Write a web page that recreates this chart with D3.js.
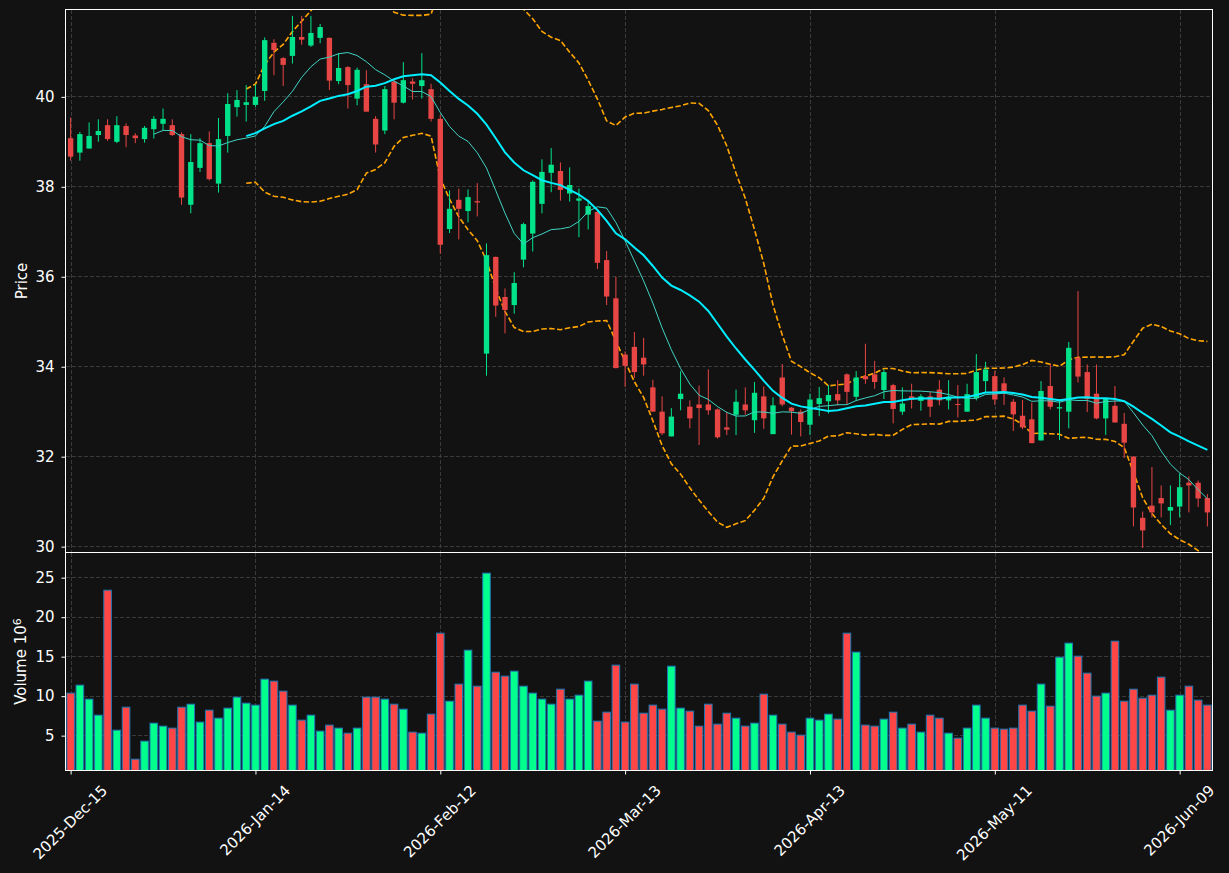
<!DOCTYPE html>
<html>
<head>
<meta charset="utf-8">
<script src="https://cdn.jsdelivr.net/npm/d3@7"></script>
<style>
  body { margin: 0; background: #121212; }
  text { font-family: "DejaVu Sans", sans-serif; }
</style>
</head>
<body>
<div id="chart"></div>
<script>
// trading days: weekdays from 2025-12-15 to 2026-06-12 minus exchange holidays
var startDay = '2025-12-15', endDay = '2026-06-13';
var holidays = ['2025-12-25', '2026-01-01', '2026-01-19', '2026-02-16', '2026-04-03', '2026-05-25'];

var opens = [39.07, 38.75, 38.84, 39.14, 39.36, 38.99, 39.34, 39.13, 39.05, 39.27,
  39.39, 39.36, 39.16, 37.59, 38.41, 38.96, 38.06, 39.12, 39.76, 39.81,
  39.81, 40.12, 41.19, 40.85, 40.90, 41.32, 41.13, 41.30, 41.30, 40.34,
  40.65, 39.95, 40.27, 39.50, 39.24, 40.33, 39.86, 40.33, 40.23, 40.16,
  39.50, 37.05, 37.70, 37.45, 37.67, 34.28, 36.43, 35.54, 35.36, 36.37,
  36.95, 37.61, 38.30, 38.34, 37.84, 37.68, 37.37, 37.43, 36.36, 35.51,
  34.26, 34.43, 34.19, 33.53, 32.99, 32.44, 33.27, 33.10, 33.15, 33.15,
  33.04, 32.64, 32.92, 33.15, 32.80, 33.33, 32.49, 33.75, 33.08, 32.99,
  32.70, 33.16, 33.22, 33.38, 33.82, 33.32, 33.78, 33.82, 33.47, 33.58,
  32.99, 33.33, 33.23, 33.33, 33.48, 33.24, 33.16, 32.99, 33.29, 33.67,
  33.78, 33.62, 33.21, 32.90, 32.82, 32.35, 33.56, 33.06, 32.99, 34.19,
  33.87, 33.39, 32.84, 33.12, 32.72, 31.99, 30.63, 30.90, 31.07, 30.79,
  30.88, 31.41, 31.41, 31.07];
var highs = [39.53, 39.21, 39.42, 39.49, 39.49, 39.56, 39.40, 39.18, 39.34, 39.56,
  39.73, 39.49, 39.20, 39.16, 39.07, 39.22, 39.52, 40.07, 40.14, 40.25,
  40.27, 41.31, 41.27, 40.87, 41.79, 41.79, 41.79, 41.61, 41.31, 40.96,
  40.67, 40.64, 40.58, 39.56, 40.23, 40.37, 40.76, 40.40, 40.96, 40.28,
  39.59, 37.91, 37.95, 37.93, 38.07, 36.73, 36.44, 35.73, 36.09, 37.19,
  38.13, 38.60, 38.85, 38.53, 38.42, 37.95, 37.70, 37.45, 36.56, 35.99,
  34.33, 34.76, 34.63, 33.70, 33.33, 33.07, 33.89, 33.24, 33.57, 33.93,
  33.06, 32.98, 33.48, 33.53, 33.65, 33.55, 33.31, 34.05, 33.09, 33.04,
  33.39, 33.54, 33.58, 33.69, 33.84, 33.89, 34.50, 34.12, 33.93, 33.61,
  33.53, 33.61, 33.38, 33.43, 33.69, 33.69, 33.58, 33.61, 34.27, 34.10,
  33.90, 33.75, 33.27, 33.25, 33.19, 33.67, 34.05, 33.27, 34.54, 35.67,
  34.04, 34.04, 33.29, 33.56, 32.96, 32.00, 30.77, 31.76, 31.35, 31.35,
  31.62, 31.55, 31.46, 31.16];
var lows = [38.57, 38.57, 38.84, 38.99, 39.01, 38.96, 38.87, 38.96, 38.97, 39.06,
  39.25, 39.12, 37.59, 37.40, 38.32, 38.13, 37.86, 38.75, 39.55, 39.44,
  39.77, 39.90, 40.47, 40.23, 40.73, 41.15, 41.10, 41.18, 40.14, 40.27,
  39.73, 39.80, 39.66, 38.75, 39.16, 39.49, 39.84, 39.93, 39.95, 39.44,
  36.50, 36.96, 36.82, 37.20, 37.33, 33.79, 35.10, 34.73, 35.17, 36.20,
  36.55, 37.40, 37.87, 37.68, 37.66, 36.87, 37.04, 36.16, 35.36, 33.95,
  33.54, 33.74, 33.79, 32.99, 32.47, 32.44, 33.02, 32.62, 32.25, 32.92,
  32.39, 32.47, 32.47, 32.92, 32.52, 32.61, 32.49, 33.11, 32.48, 32.44,
  32.47, 32.89, 32.95, 33.13, 33.16, 33.23, 33.61, 33.50, 33.27, 32.73,
  32.92, 33.06, 33.01, 32.87, 33.13, 33.04, 32.86, 32.99, 33.24, 33.43,
  33.14, 33.14, 32.56, 32.60, 32.29, 32.35, 33.04, 32.36, 32.62, 33.64,
  32.98, 32.82, 32.47, 32.75, 31.96, 30.44, 29.96, 30.64, 30.64, 30.47,
  30.64, 30.75, 30.87, 30.44];
var closes = [38.66, 39.16, 39.12, 39.23, 39.05, 39.36, 39.14, 39.07, 39.30, 39.50,
  39.50, 39.14, 37.75, 38.54, 38.96, 38.16, 39.05, 39.83, 39.92, 39.87,
  39.99, 41.25, 41.03, 40.70, 41.32, 41.26, 41.41, 41.54, 40.35, 40.63,
  40.25, 40.59, 39.66, 38.93, 40.16, 39.86, 40.36, 40.28, 40.36, 39.50,
  36.70, 37.50, 37.50, 37.76, 37.64, 36.47, 35.35, 35.25, 35.85, 37.16,
  38.10, 38.32, 38.48, 37.92, 38.03, 37.73, 37.56, 36.30, 35.55, 33.96,
  34.01, 33.87, 34.04, 32.99, 32.51, 32.88, 33.39, 32.84, 33.07, 33.02,
  32.42, 32.59, 33.21, 33.02, 33.41, 32.84, 33.13, 33.15, 33.00, 32.76,
  33.26, 33.29, 33.36, 33.24, 33.43, 33.75, 33.71, 33.65, 33.87, 33.05,
  33.17, 33.26, 33.33, 33.10, 33.24, 33.32, 33.14, 33.38, 33.87, 33.93,
  33.26, 33.44, 32.93, 32.64, 32.29, 33.45, 33.10, 33.09, 34.41, 33.77,
  33.27, 32.84, 33.29, 32.75, 32.30, 30.86, 30.35, 30.75, 30.95, 30.87,
  31.31, 31.35, 31.06, 30.75];
// volume in millions
var volumes = [10.32, 11.33, 9.56, 7.53, 23.35, 5.63, 8.54, 1.96, 4.24, 6.52,
  6.14, 5.89, 8.54, 8.92, 6.65, 8.16, 7.15, 8.42, 9.81, 9.05,
  8.80, 12.09, 11.84, 10.57, 8.80, 6.90, 7.53, 5.51, 6.27, 5.89,
  5.25, 5.89, 9.81, 9.81, 9.56, 8.92, 8.29, 5.38, 5.25, 7.66,
  17.91, 9.30, 11.46, 15.76, 11.20, 25.51, 12.97, 12.47, 13.10, 11.20,
  10.32, 9.56, 8.92, 10.82, 9.56, 10.06, 11.84, 6.77, 7.91, 13.86,
  6.65, 11.46, 7.78, 8.80, 8.29, 13.73, 8.42, 8.04, 6.14, 8.92,
  6.39, 7.78, 7.15, 6.14, 6.52, 10.19, 7.53, 6.39, 5.38, 5.00,
  7.15, 6.90, 7.66, 7.03, 17.91, 15.51, 6.27, 6.14, 7.03, 7.91,
  5.89, 6.39, 5.38, 7.53, 7.15, 5.25, 4.62, 5.89, 8.80, 7.15,
  5.89, 5.76, 5.89, 8.80, 8.04, 11.46, 8.67, 14.87, 16.65, 15.00,
  12.85, 9.94, 10.32, 16.90, 9.30, 10.82, 9.68, 10.06, 12.34, 8.16,
  10.06, 11.20, 9.43, 8.80];

var priceTicks = [30, 32, 34, 36, 38, 40];
var volumeTicks = [5, 10, 15, 20, 25];
var tickEvery = 20;
var maShort = 10, maLong = 20, bandWidth = 2;

var width = 1229, height = 873;
var left = 66, right = 1212,
  priceTop = 10, priceBottom = 552,
  volTop = 553, volBottom = 770;
var fontSize = 15;

var upColor = '#00e38a', downColor = '#e84545',
  volUp = '#00ff8c', volDown = '#ff4646', volEdge = '#1f77b4',
  gridColor = '#3a3a3a', textColor = '#ffffff';

var keyFmt = d3.utcFormat('%Y-%m-%d');
var dates = d3.utcDays(new Date(startDay), new Date(endDay)).filter(function(d) {
  return d.getUTCDay() % 6 !== 0 && holidays.indexOf(keyFmt(d)) < 0;
});
var n = closes.length;
var idx = d3.range(n);

function rolling(arr, w, fn) {
  return arr.map(function(v, i) {
    if (i < w - 1) return null;
    return fn(arr.slice(i - w + 1, i + 1));
  });
}
function popStd(a) {
  var m = d3.mean(a);
  return Math.sqrt(d3.mean(a, function(v) { return (v - m) * (v - m); }));
}
var ma10 = rolling(closes, maShort, d3.mean);
var ma20 = rolling(closes, maLong, d3.mean);
var sd20 = rolling(closes, maLong, popStd);
var upper = ma20.map(function(m, i) { return m === null ? null : m + bandWidth * sd20[i]; });
var lower = ma20.map(function(m, i) { return m === null ? null : m - bandWidth * sd20[i]; });

var svg = d3.select('#chart').append('svg').attr('width', width).attr('height', height)
  .style('background', '#121212');

var x = d3.scaleBand().domain(idx).range([left, right]).padding(0);
var bw = x.bandwidth();
function cx(i) { return x(i) + bw / 2; }

var yPrice = d3.scaleLinear().domain([29.87, 41.92]).range([priceBottom, priceTop]);
var yVol = d3.scaleLinear()
  .domain([0.3 * d3.min(volumes), 1.1 * d3.max(volumes)])
  .range([volBottom, volTop]);

var defs = svg.append('defs');
defs.append('clipPath').attr('id', 'clipPrice').append('rect')
  .attr('x', left).attr('y', priceTop).attr('width', right - left).attr('height', priceBottom - priceTop);
defs.append('clipPath').attr('id', 'clipVol').append('rect')
  .attr('x', left).attr('y', volTop).attr('width', right - left).attr('height', volBottom - volTop);

var xTickIdx = idx.filter(function(i) { return i % tickEvery === 0; });
var dateFmt = d3.utcFormat('%Y-%b-%d');

/* grids */
function drawGrid(yScale, ticks, top, bottom) {
  var g = svg.append('g');
  g.selectAll('line.h').data(ticks).enter().append('line')
    .attr('x1', left).attr('x2', right)
    .attr('y1', function(d) { return Math.round(yScale(d)) + 0.5; })
    .attr('y2', function(d) { return Math.round(yScale(d)) + 0.5; });
  g.selectAll('line.v').data(xTickIdx).enter().append('line')
    .attr('x1', function(i) { return Math.round(cx(i)) + 0.5; })
    .attr('x2', function(i) { return Math.round(cx(i)) + 0.5; })
    .attr('y1', top).attr('y2', bottom);
  g.selectAll('line').attr('stroke', gridColor).attr('stroke-width', 1).attr('stroke-dasharray', '4,2');
}
drawGrid(yPrice, priceTicks, priceTop, priceBottom);
drawGrid(yVol, volumeTicks, volTop, volBottom);

/* price panel */
var pg = svg.append('g').attr('clip-path', 'url(#clipPrice)');

var lineGen = function(arr) {
  return d3.line().defined(function(i) { return arr[i] !== null; })
    .x(cx).y(function(i) { return yPrice(arr[i]); });
};

pg.append('path').datum(idx).attr('d', lineGen(upper))
  .attr('fill', 'none').attr('stroke', '#ffa500').attr('stroke-width', 1.6).attr('stroke-dasharray', '5.5,2.4');
pg.append('path').datum(idx).attr('d', lineGen(lower))
  .attr('fill', 'none').attr('stroke', '#ffa500').attr('stroke-width', 1.6).attr('stroke-dasharray', '5.5,2.4');

var candles = pg.selectAll('g.candle').data(idx).enter().append('g');
candles.append('line')
  .attr('x1', cx).attr('x2', cx)
  .attr('y1', function(i) { return yPrice(highs[i]); })
  .attr('y2', function(i) { return yPrice(lows[i]); })
  .attr('stroke', function(i) { return closes[i] >= opens[i] ? upColor : downColor; })
  .attr('stroke-width', 1);
candles.append('rect')
  .attr('x', function(i) { return cx(i) - bw * 0.29; })
  .attr('width', bw * 0.58)
  .attr('y', function(i) { return yPrice(Math.max(opens[i], closes[i])); })
  .attr('height', function(i) { return Math.max(1, Math.abs(yPrice(opens[i]) - yPrice(closes[i]))); })
  .attr('fill', function(i) { return closes[i] >= opens[i] ? upColor : downColor; });

pg.append('path').datum(idx).attr('d', lineGen(ma10))
  .attr('fill', 'none').attr('stroke', '#3fd4c4').attr('stroke-width', 1);
pg.append('path').datum(idx).attr('d', lineGen(ma20))
  .attr('fill', 'none').attr('stroke', '#00eeff').attr('stroke-width', 2);

/* volume panel */
var vg = svg.append('g').attr('clip-path', 'url(#clipVol)');
vg.selectAll('rect').data(idx).enter().append('rect')
  .attr('x', function(i) { return cx(i) - bw * 0.41; })
  .attr('width', bw * 0.82)
  .attr('y', function(i) { return yVol(volumes[i]); })
  .attr('height', function(i) { return volBottom + 2 - yVol(volumes[i]); })
  .attr('fill', function(i) { return closes[i] >= opens[i] ? volUp : volDown; })
  .attr('stroke', volEdge).attr('stroke-width', 1);

/* frames, drawn on half pixels so they stay crisp */
[[priceTop, priceBottom], [volTop, volBottom]].forEach(function(p) {
  svg.append('rect').attr('x', left - 0.5).attr('y', p[0] - 0.5)
    .attr('width', right - left + 1).attr('height', p[1] - p[0] + 1)
    .attr('fill', 'none').attr('stroke', '#ffffff').attr('stroke-width', 1);
});

/* axes */
function styleAxis(g) {
  g.select('.domain').remove();
  g.selectAll('.tick line').attr('stroke', '#ffffff');
  g.selectAll('.tick text').attr('fill', textColor).style('font-size', fontSize + 'px')
    .style('font-family', '"DejaVu Sans", sans-serif');
}
svg.append('g').attr('transform', 'translate(' + (left - 0.5) + ',0.5)')
  .call(d3.axisLeft(yPrice).tickValues(priceTicks).tickSize(4).tickPadding(7))
  .call(styleAxis);
svg.append('g').attr('transform', 'translate(' + (left - 0.5) + ',0.5)')
  .call(d3.axisLeft(yVol).tickValues(volumeTicks).tickSize(4).tickPadding(7))
  .call(styleAxis);

var xAxis = svg.append('g').attr('transform', 'translate(0.5,' + (volBottom + 0.5) + ')')
  .call(d3.axisBottom(x).tickValues(xTickIdx).tickSize(4)
    .tickFormat(function(i) { return dateFmt(dates[i]); }))
  .call(styleAxis);
xAxis.selectAll('.tick text').each(function() {
  var t = d3.select(this);
  var L = this.getComputedTextLength();
  var half = (L + fontSize) * Math.SQRT1_2 / 2;
  t.attr('y', 0).attr('dy', '0.35em').attr('text-anchor', 'middle')
    .attr('transform', 'translate(-1,' + (12 + half) + ') rotate(-45)');
});

/* axis titles */
svg.append('text')
  .attr('transform', 'translate(27,' + (priceTop + priceBottom) / 2 + ') rotate(-90)')
  .attr('text-anchor', 'middle').attr('fill', textColor).style('font-size', fontSize + 'px')
  .text('Price');
var vl = svg.append('text')
  .attr('transform', 'translate(26,' + (volTop + volBottom) / 2 + ') rotate(-90)')
  .attr('text-anchor', 'middle').attr('fill', textColor).style('font-size', fontSize + 'px');
vl.append('tspan').text('Volume  10');
vl.append('tspan').attr('dy', '-0.45em').style('font-size', '11px').text('6');
</script>
</body>
</html>
